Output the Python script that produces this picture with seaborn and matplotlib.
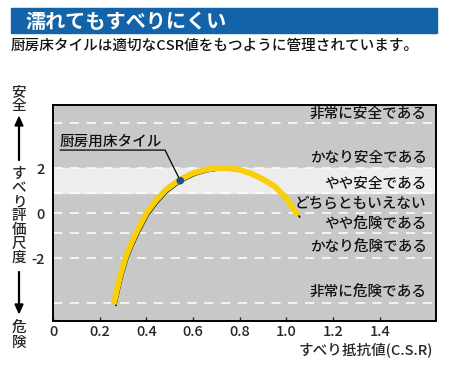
import numpy as np
import pandas as pd
import matplotlib
matplotlib.use("Agg")
import matplotlib.pyplot as plt
import matplotlib.patheffects as pe
from matplotlib.patches import Rectangle
import seaborn as sns

sns.set_theme(style="white")
plt.rcParams["font.family"] = ["Noto Sans CJK JP", "DejaVu Sans"]
plt.rcParams["font.weight"] = "medium"

# ----------------------------------------------------------------------
# data
# ----------------------------------------------------------------------
csr = [0.26, 0.285, 0.31, 0.335, 0.36, 0.40, 0.44, 0.48, 0.52, 0.56,
       0.60, 0.65, 0.70, 0.75, 0.80, 0.85, 0.90, 0.95, 1.00, 1.05]
score = [-4.05, -2.9, -2.0, -1.35, -0.8, 0.0, 0.55, 1.0, 1.32, 1.57,
         1.77, 1.92, 2.0, 2.0, 1.92, 1.75, 1.5, 1.18, 0.65, -0.12]

tile_csr = [0.545]
tile_score = [1.44]
tile_label = "厨房用床タイル"

grade_lines = [4, 2, 0.9, 0, -0.9, -2, -4]
safe_band = (0.9, 2.0)
grade_labels = ["非常に安全である", "かなり安全である", "やや安全である", "どちらともいえない",
                "やや危険である", "かなり危険である", "非常に危険である"]
grade_label_y = [4.4, 2.45, 1.3, 0.4, -0.5, -1.55, -3.55]

x_ticks = [0, 0.2, 0.4, 0.6, 0.8, 1.0, 1.2, 1.4]
x_tick_labels = ["0", "0.2", "0.4", "0.6", "0.8", "1.0", "1.2", "1.4"]
y_ticks = [2, 0, -2]

title = "濡れてもすべりにくい"
subtitle = "厨房床タイルは適切なCSR値をもつように管理されています。"
x_label = "すべり抵抗値(C.S.R)"

GRAY = "#c8c8c8"
LIGHT = "#ededed"
BLUE = "#1363a9"
YELLOW = "#f7cf0a"

# ----------------------------------------------------------------------
# figure
# ----------------------------------------------------------------------
fig = plt.figure(figsize=(4.55, 3.7), dpi=100)
fig.patch.set_facecolor("white")
ax = fig.add_axes([0.1165, 0.1324, 0.8415, 0.5836])
ax.set_facecolor(GRAY)

ax.axhspan(*safe_band, color=LIGHT, zorder=0)
for yv in grade_lines:
    ax.axhline(yv, color="white", lw=1.1, dashes=(6, 5), zorder=1)

for lab, yv in zip(grade_labels, grade_label_y):
    ax.text(1.6, yv, lab, ha="right", va="center", fontsize=10.5, color="#111111", zorder=2)

df = pd.DataFrame({"csr": csr, "score": score})
sns.lineplot(data=df, x="csr", y="score", ax=ax, color=YELLOW, lw=4.2, sort=False,
             zorder=3, solid_capstyle="butt",
             path_effects=[pe.SimpleLineShadow(offset=(1.4, -1.4), shadow_color="black",
                                               alpha=1, linewidth=1.1),
                           pe.Normal()])

# annotation for the kitchen tile
ax.plot([0.03, 0.48, tile_csr[0]], [2.8, 2.8, tile_score[0]], color="black", lw=0.9, zorder=4)
ax.text(0.03, 2.88, tile_label, ha="left", va="bottom", fontsize=10.5, color="#111111")
sns.scatterplot(x=tile_csr, y=tile_score, ax=ax, color="#1a4f98", s=30,
                edgecolor="none", zorder=5)

ax.set_xlim(0, 1.64)
ax.set_ylim(-4.8, 4.8)
ax.set_xticks(x_ticks)
ax.set_xticklabels(x_tick_labels, fontsize=10.5)
ax.set_yticks(y_ticks)
ax.set_yticklabels([str(v) for v in y_ticks], fontsize=10.5)
ax.tick_params(axis="x", direction="in", length=3, width=1, pad=3, bottom=True)
ax.tick_params(axis="y", length=0, pad=6)
ax.set_xlabel("")
ax.set_ylabel("")
for s in ax.spines.values():
    s.set_visible(True)
    s.set_color("black")
    s.set_linewidth(1.4)

fig.text(433 / 455, 1 - 350 / 370, x_label, ha="right", va="center", fontsize=10.5)

# title bar
fig.patches.append(Rectangle((11 / 455, 1 - 33 / 370), 426 / 455, 25 / 370,
                             transform=fig.transFigure, color=BLUE, zorder=0))
fig.text(25 / 455, 1 - 21 / 370, title, ha="left", va="center", fontsize=14.5,
         fontweight="bold", color="white")
fig.text(11 / 455, 1 - 46 / 370, subtitle, ha="left", va="center", fontsize=10.5,
         color="#111111")

# vertical left label with arrows
fig.text(19 / 455, 1 - 99 / 370, "安\n全", ha="center", va="center", fontsize=10.5,
         linespacing=1.0)
fig.text(19 / 455, 1 - 216 / 370, "す\nべ\nり\n評\n価\n尺\n度", ha="center", va="center",
         fontsize=10.5, linespacing=1.0)
fig.text(19 / 455, 1 - 336 / 370, "危\n険", ha="center", va="center", fontsize=10.5,
         linespacing=1.0)
fig.add_artist(plt.Line2D([19 / 455, 19 / 455], [1 - 160 / 370, 1 - 125 / 370],
                          color="black", lw=1.6))
fig.patches.append(plt.Polygon([[15 / 455, 1 - 126 / 370], [23 / 455, 1 - 126 / 370],
                                [19 / 455, 1 - 117 / 370]], closed=True,
                               transform=fig.transFigure, color="black"))
fig.add_artist(plt.Line2D([19 / 455, 19 / 455], [1 - 272 / 370, 1 - 305 / 370],
                          color="black", lw=1.6))
fig.patches.append(plt.Polygon([[15 / 455, 1 - 304 / 370], [23 / 455, 1 - 304 / 370],
                                [19 / 455, 1 - 313 / 370]], closed=True,
                               transform=fig.transFigure, color="black"))

fig.savefig("out.png", dpi=100)
